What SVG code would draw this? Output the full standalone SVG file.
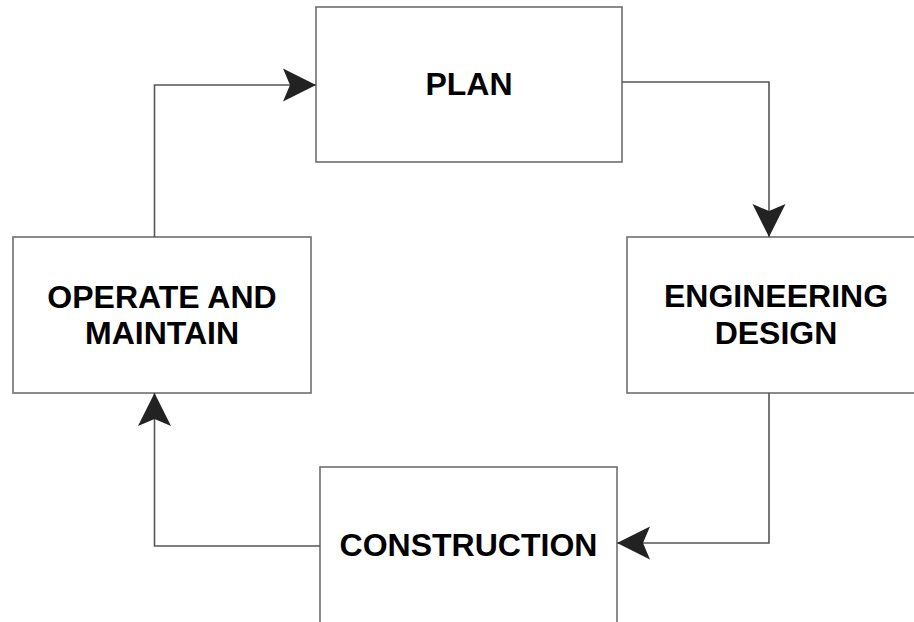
<svg xmlns="http://www.w3.org/2000/svg" width="914" height="622" viewBox="0 0 914 622">
  <style>
    .box { fill: #ffffff; stroke: #6e6e6e; stroke-width: 1.6; }
    .label { font-family: "Liberation Sans", Arial, sans-serif; font-weight: bold; font-size: 32px; fill: #000000; text-anchor: middle; }
    .wire { fill: none; stroke: #555555; stroke-width: 1.6; marker-end: url(#head); }
  </style>
  <defs>
    <marker id="head" markerUnits="userSpaceOnUse" viewBox="-34 -18 36 36" refX="0" refY="0" markerWidth="36" markerHeight="36" orient="auto">
      <path d="M0,0 L-33,-16.5 L-26,0 L-33,16.5 Z" fill="#222222"/>
    </marker>
  </defs>
  <rect width="914" height="622" fill="#ffffff"/>

  <g id="plan">
    <rect class="box" x="316" y="7" width="306" height="155"/>
    <text class="label" x="469" y="95">PLAN</text>
  </g>

  <g id="engineering-design">
    <rect class="box" x="627" y="237" width="300" height="156"/>
    <text class="label" x="776" y="307">ENGINEERING</text>
    <text class="label" x="776" y="344">DESIGN</text>
  </g>

  <g id="construction">
    <rect class="box" x="320" y="467" width="297" height="200"/>
    <text class="label" x="468.5" y="556">CONSTRUCTION</text>
  </g>

  <g id="operate-and-maintain">
    <rect class="box" x="13" y="237" width="298" height="156"/>
    <text class="label" x="162" y="308">OPERATE AND</text>
    <text class="label" x="162" y="343.5">MAINTAIN</text>
  </g>

  <g id="connectors">
    <path class="wire" d="M622,82 H769 V237"/>
    <path class="wire" d="M769,393 V543 H617"/>
    <path class="wire" d="M320,546 H154.5 V393"/>
    <path class="wire" d="M154.5,237 V85 H316"/>
  </g>
</svg>
